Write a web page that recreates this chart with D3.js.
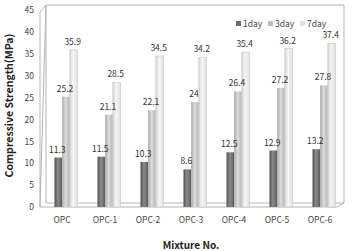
<!DOCTYPE html>
<html>
<head>
<meta charset="utf-8">
<script src="https://cdn.jsdelivr.net/npm/d3@7"></script>
<style>
  body { margin: 0; background: #fff; }
  svg { display: block; }
</style>
</head>
<body>
<div id="chart"></div>
<script>
const mixtures = ["OPC", "OPC-1", "OPC-2", "OPC-3", "OPC-4", "OPC-5", "OPC-6"];
const seriesNames = ["1day", "3day", "7day"];
const day1 = [11.3, 11.5, 10.3, 8.6, 12.5, 12.9, 13.2];
const day3 = [25.2, 21.1, 22.1, 24, 26.4, 27.2, 27.8];
const day7 = [35.9, 28.5, 34.5, 34.2, 35.4, 36.2, 37.4];
const yTicks = [0, 5, 10, 15, 20, 25, 30, 35, 40, 45];

const W = 352, H = 251;
const font = "'Noto Sans CJK KR', 'DejaVu Sans', sans-serif";

const svg = d3.select("#chart").append("svg")
  .attr("width", W).attr("height", H);

// gradients for the cylinder-ish bars
const fills = [
  ["#4f4f4f", "#8c8c8c", "#5a5a5a"],
  ["#a9a9a9", "#dcdcdc", "#b4b4b4"],
  ["#d6d6d6", "#f6f6f6", "#dedede"]
];
const legendFill = ["#6e6e6e", "#bdbdbd", "#e2e2e2"];
const defs = svg.append("defs");
fills.forEach((c, i) => {
  const gr = defs.append("linearGradient").attr("id", "g" + i)
    .attr("x1", "0").attr("x2", "1").attr("y1", "0").attr("y2", "0");
  gr.append("stop").attr("offset", "0%").attr("stop-color", c[0]);
  gr.append("stop").attr("offset", "45%").attr("stop-color", c[1]);
  gr.append("stop").attr("offset", "100%").attr("stop-color", c[2]);
});

const x = d3.scaleBand().domain(mixtures).range([40.5, 341.5]);
const xs = d3.scaleBand().domain(seriesNames).range([0, 23]);
const y = d3.scaleLinear().domain([0, 45]).range([207, 10]);

const dx = 6, dy = 4; // 3d depth

// walls and floor
const frame = svg.append("g").attr("fill", "none").attr("stroke", "#b5b5b5").attr("stroke-width", 1);
const xL = 40, xR = 337;
frame.append("path")
  .attr("d", `M${xL + dx},${y(45) - 5} H${xR + dx + 1} V${y(0) - dy}`);
frame.append("path")
  .attr("d", `M${xL + dx},${y(45) - 5} V${y(0) - dy} H${xR + dx + 1} L${xR},${y(0)} H${xL} Z`);
frame.append("path")
  .attr("d", `M${xL},${y(45) + 2} L${xL + dx},${y(45) - 5} M${xL},${y(45) + 2} V${y(0)}`);

// y axis labels
const yAxis = svg.append("g").attr("transform", `translate(${xL},0)`)
  .call(d3.axisLeft(y).tickValues(yTicks).tickSize(0).tickPadding(6))
  .call(ax => ax.select(".domain").remove());
yAxis.selectAll("text").style("font-family", font).style("font-size", "8.5px").style("fill", "#444");

// x axis labels
const xAxis = svg.append("g").attr("transform", `translate(0,${y(0)})`)
  .call(d3.axisBottom(x).tickSize(0).tickPadding(10))
  .call(ax => ax.select(".domain").remove());
xAxis.selectAll("text").style("font-family", font).style("font-size", "8.5px").style("fill", "#444");

// bars
const allSeries = [day1, day3, day7];
const barX = (i, si) => x(mixtures[i]) + 14 + xs(seriesNames[si]);
allSeries.forEach((vals, si) => {
  svg.append("g").selectAll("rect").data(vals).enter().append("rect")
    .attr("x", (d, i) => barX(i, si))
    .attr("y", d => y(d))
    .attr("width", xs.bandwidth())
    .attr("height", d => y(0) - y(d))
    .attr("fill", "url(#g" + si + ")")
    .attr("stroke", si === 2 ? "#c8c8c8" : "none")
    .attr("stroke-width", 0.6);
});

// value labels on top of everything
allSeries.forEach((vals, si) => {
  svg.append("g").selectAll("text").data(vals).enter().append("text")
    .attr("x", (d, i) => barX(i, si) + xs.bandwidth() / 2 - 1)
    .attr("y", d => y(d) - 5)
    .attr("text-anchor", "middle")
    .style("font-family", font).style("font-size", "8.5px").style("fill", "#333")
    .text(d => d);
});

// legend
const legend = svg.append("g").attr("transform", "translate(236,24)");
const legX = [0, 32, 64];
seriesNames.forEach((s, i) => {
  legend.append("rect").attr("x", legX[i]).attr("y", -3).attr("width", 5).attr("height", 5)
    .attr("fill", legendFill[i]);
  legend.append("text").attr("x", legX[i] + 7).attr("y", 0).attr("dy", "0.35em")
    .style("font-family", font).style("font-size", "8.5px").style("fill", "#444")
    .text(s);
});

// axis titles
svg.append("text")
  .attr("transform", `translate(9,${(y(0) + y(45)) / 2 - 3}) rotate(-90)`)
  .attr("text-anchor", "middle").attr("dy", "0.35em")
  .style("font-family", font).style("font-size", "10.5px").style("font-weight", "bold").style("fill", "#222")
  .text("Compressive Strength(MPa)");

svg.append("text")
  .attr("x", 191).attr("y", 249)
  .attr("text-anchor", "middle")
  .style("font-family", font).style("font-size", "10px").style("font-weight", "bold").style("fill", "#222")
  .text("Mixture No.");
</script>
</body>
</html>
